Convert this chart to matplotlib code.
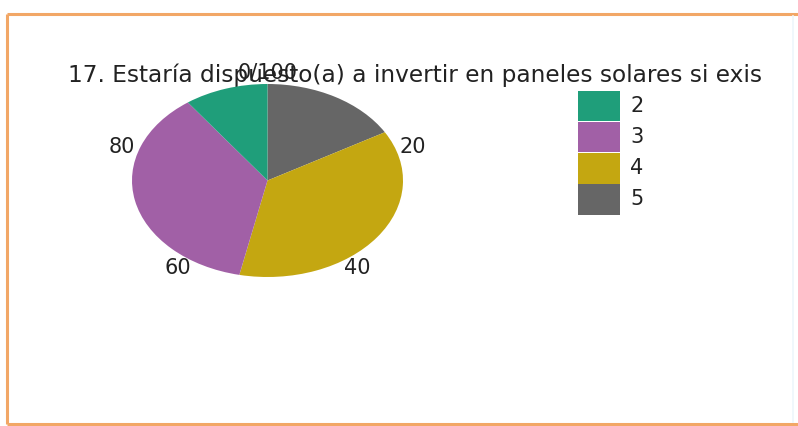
import matplotlib.pyplot as plt
from matplotlib.transforms import Bbox
import numpy as np

plt.rcParams['font.family'] = ['DejaVu Sans']

# answers to question 17 (counts per level)
niveles = ['2', '3', '4', '5']
conteos = [3, 11, 11, 5]
colores = ['#1f9e7a', '#a160a6', '#c4a711', '#666666']
marcas = [0, 20, 40, 60, 80]
etiquetas = ['0/100', '20', '40', '60', '80']
titulo = '17. Estaría dispuesto(a) a invertir en paneles solares si exis'

W, H = 798, 426
fig = plt.figure(figsize=(W / 100, H / 100), dpi=100)
fig.patch.set_facecolor('white')

# overlay axes in pixel coordinates
base = fig.add_axes([0, 0, 1, 1])
base.set_xlim(0, W)
base.set_ylim(H, 0)
base.axis('off')

naranja = '#f2a766'
base.plot([7, W], [14, 14], color=naranja, lw=2.2, solid_capstyle='butt')
base.plot([7, 7], [14, 424], color=naranja, lw=2.2, solid_capstyle='butt')
base.plot([7, W], [424, 424], color=naranja, lw=2.2, solid_capstyle='butt')
base.plot([793, 793], [16, 422], color='#eef6fb', lw=1.2)

# pie stretched into an ellipse
x0, x1, y0, y1 = 132, 403, 84, 277
ax = fig.add_axes([x0 / W, 1 - y1 / H, (x1 - x0) / W, (y1 - y0) / H])
cuñas, _ = ax.pie(conteos[::-1], colors=colores[::-1], startangle=90,
                  counterclock=False, radius=1,
                  wedgeprops=dict(linewidth=0))
ax.set_aspect('auto')
ax.set_xlim(-1, 1)
ax.set_ylim(-1, 1)
ax.axis('off')

for m, t in zip(marcas, etiquetas):
    ang = np.radians(m / 100 * 360)
    ax.text(1.13 * np.sin(ang), 1.12 * np.cos(ang), t, ha='center',
            va='center', fontsize=15, color='#222222', clip_on=False)

# title, cut at the right like the original
tt = base.text(68, 82, titulo, fontsize=15, color='#222222',
               ha='left', va='baseline')
fig.canvas.draw()
ancho = tt.get_window_extent().width
tt.set_fontsize(15 * 696 / ancho)
tt.set_clip_box(Bbox.from_extents(0, 0, 764, H))
tt.set_clip_on(True)

leg = base.legend(cuñas[::-1], niveles, loc='upper left',
                  bbox_to_anchor=(578 / W, 1 - 91 / H),
                  bbox_transform=fig.transFigure, frameon=False,
                  fontsize=13, handlelength=2.3, handleheight=2.2,
                  labelspacing=0.05, handletextpad=0.6, borderpad=0,
                  borderaxespad=0)
for txt in leg.get_texts():
    txt.set_color('#222222')
    txt.set_fontsize(15)

fig.savefig('out.png', dpi=100)
